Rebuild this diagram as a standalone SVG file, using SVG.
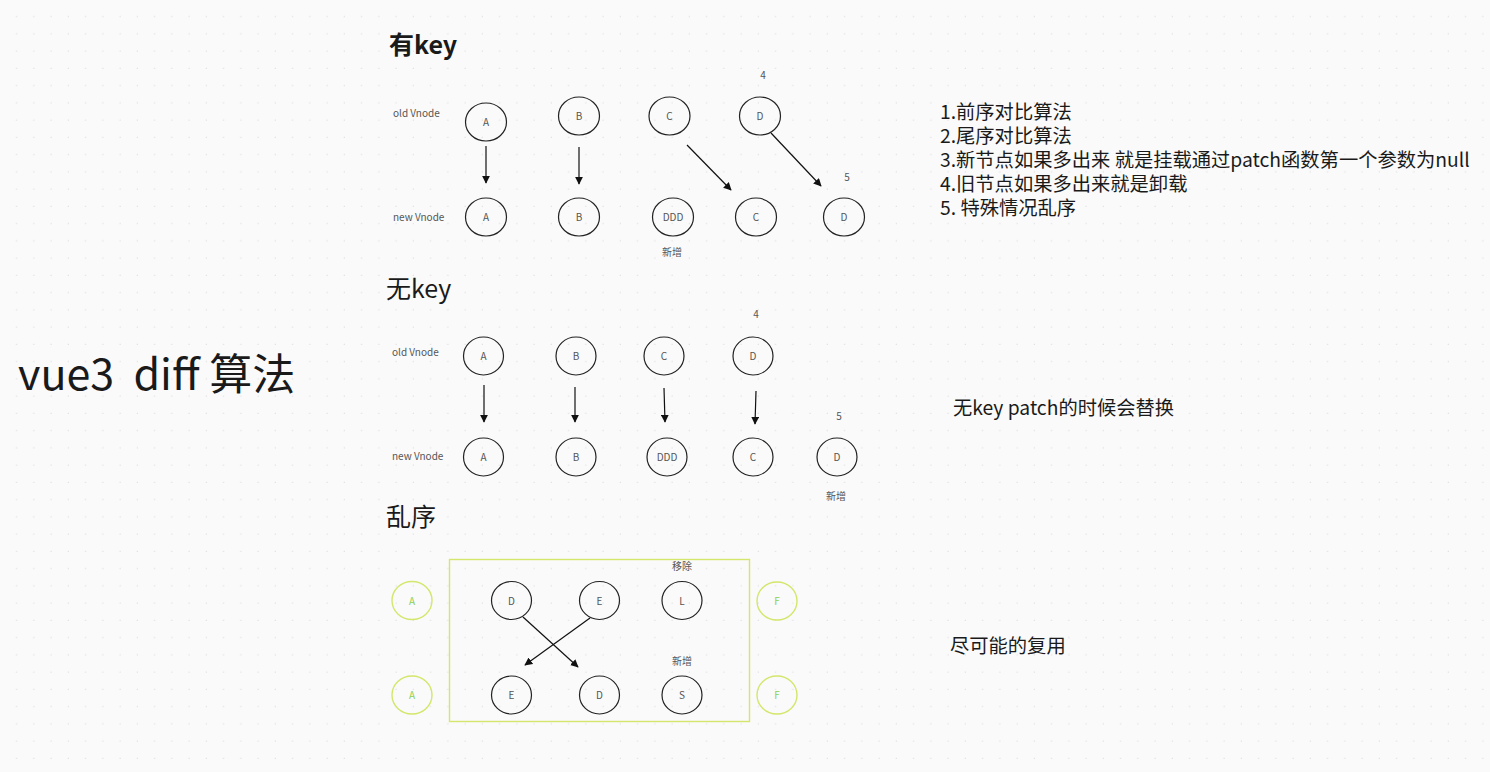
<svg xmlns="http://www.w3.org/2000/svg" width="1490" height="772" viewBox="0 0 1490 772">
<defs>
<pattern id="dots" x="0" y="0" width="17.25" height="17.25" patternUnits="userSpaceOnUse">
<rect x="16" y="16" width="2" height="2" fill="#e2e2e2"/>
</pattern>
<marker id="arr" viewBox="0 0 10 10" refX="9" refY="5" markerWidth="8" markerHeight="8" markerUnits="userSpaceOnUse" orient="auto">
<path d="M0,0 L10,5 L0,10 z" fill="#111"/>
</marker>
<style>
text{font-family:"Noto Sans CJK SC","Noto Sans",sans-serif;}
.n ellipse{fill:none;stroke:#222;stroke-width:1.2;}
.n text{font-size:10px;fill:#555;text-anchor:middle;}
.g ellipse{fill:none;stroke:#d4e66b;stroke-width:1.4;}
.g text{font-size:10px;fill:#8fd14f;text-anchor:middle;}
.lbl{font-size:10px;fill:#555;}
.sm{font-size:10px;fill:#555;text-anchor:middle;}
.h{font-size:25px;fill:#1a1a1a;}
.body{font-size:19.3px;fill:#1a1a1a;}
.conn line{stroke:#111;stroke-width:1.2;marker-end:url(#arr);}
</style>
</defs>
<rect width="1490" height="772" fill="#fafafa"/>
<rect width="1490" height="772" fill="url(#dots)"/>

<text x="18" y="390" font-size="43" fill="#1a1a1a" xml:space="preserve">vue3  diff 算法</text>

<g id="section-haskey">
<text class="h" x="389" y="54" font-weight="bold">有key</text>
<text class="lbl" x="393" y="117">old Vnode</text>
<text class="lbl" x="393" y="221">new Vnode</text>
<text class="sm" x="763" y="79">4</text>
<text class="sm" x="847" y="181">5</text>
<text class="sm" x="672" y="256">新增</text>
<g id="k-old-A" class="n"><ellipse cx="486" cy="122" rx="20.5" ry="19"/><text x="486" y="126">A</text></g>
<g id="k-old-B" class="n"><ellipse cx="579" cy="116" rx="20.5" ry="19"/><text x="579" y="120">B</text></g>
<g id="k-old-C" class="n"><ellipse cx="669.5" cy="116" rx="20.5" ry="19"/><text x="669.5" y="120">C</text></g>
<g id="k-old-D" class="n"><ellipse cx="760" cy="116" rx="20.5" ry="19"/><text x="760" y="120">D</text></g>
<g id="k-new-A" class="n"><ellipse cx="486" cy="217" rx="20.5" ry="19"/><text x="486" y="221">A</text></g>
<g id="k-new-B" class="n"><ellipse cx="579" cy="217" rx="20.5" ry="19"/><text x="579" y="221">B</text></g>
<g id="k-new-DDD" class="n"><ellipse cx="673" cy="217" rx="20.5" ry="19"/><text x="673" y="221">DDD</text></g>
<g id="k-new-C" class="n"><ellipse cx="756" cy="217" rx="20.5" ry="19"/><text x="756" y="221">C</text></g>
<g id="k-new-D" class="n"><ellipse cx="844" cy="217" rx="20.5" ry="19"/><text x="844" y="221">D</text></g>
</g>

<g id="section-nokey">
<text class="h" x="386" y="298">无key</text>
<text class="lbl" x="392" y="356">old Vnode</text>
<text class="lbl" x="392" y="460">new Vnode</text>
<text class="sm" x="756" y="318">4</text>
<text class="sm" x="839" y="420">5</text>
<text class="sm" x="836" y="500">新增</text>
<g id="n-old-A" class="n"><ellipse cx="483.5" cy="356" rx="20" ry="19"/><text x="483.5" y="360">A</text></g>
<g id="n-old-B" class="n"><ellipse cx="576" cy="356" rx="20" ry="19"/><text x="576" y="360">B</text></g>
<g id="n-old-C" class="n"><ellipse cx="664" cy="356" rx="20" ry="19"/><text x="664" y="360">C</text></g>
<g id="n-old-D" class="n"><ellipse cx="753" cy="356" rx="20" ry="19"/><text x="753" y="360">D</text></g>
<g id="n-new-A" class="n"><ellipse cx="483.5" cy="457" rx="20" ry="19"/><text x="483.5" y="461">A</text></g>
<g id="n-new-B" class="n"><ellipse cx="576" cy="457" rx="20" ry="19"/><text x="576" y="461">B</text></g>
<g id="n-new-DDD" class="n"><ellipse cx="667" cy="457" rx="20" ry="19"/><text x="667" y="461">DDD</text></g>
<g id="n-new-C" class="n"><ellipse cx="753" cy="457" rx="20" ry="19"/><text x="753" y="461">C</text></g>
<g id="n-new-D" class="n"><ellipse cx="837" cy="457" rx="20" ry="19"/><text x="837" y="461">D</text></g>
</g>

<g id="section-unordered">
<text class="h" x="386" y="526">乱序</text>
<rect id="box" x="449.5" y="559.5" width="300" height="162" fill="none" stroke="#d4e66b" stroke-width="1.4"/>
<text class="sm" x="682" y="570">移除</text>
<text class="sm" x="682" y="665">新增</text>
<g id="u-old-A" class="g"><ellipse cx="412" cy="600.5" rx="20" ry="19"/><text x="412" y="604.5">A</text></g>
<g id="u-old-D" class="n"><ellipse cx="511.5" cy="600.5" rx="20" ry="19"/><text x="511.5" y="604.5">D</text></g>
<g id="u-old-E" class="n"><ellipse cx="599.5" cy="600.5" rx="20" ry="19"/><text x="599.5" y="604.5">E</text></g>
<g id="u-old-L" class="n"><ellipse cx="682" cy="600.5" rx="20" ry="19"/><text x="682" y="604.5">L</text></g>
<g id="u-old-F" class="g"><ellipse cx="777" cy="601" rx="20" ry="19"/><text x="777" y="605">F</text></g>
<g id="u-new-A" class="g"><ellipse cx="412" cy="695" rx="20" ry="19"/><text x="412" y="699">A</text></g>
<g id="u-new-E" class="n"><ellipse cx="511.5" cy="695" rx="20" ry="19"/><text x="511.5" y="699">E</text></g>
<g id="u-new-D" class="n"><ellipse cx="599.5" cy="695" rx="20" ry="19"/><text x="599.5" y="699">D</text></g>
<g id="u-new-S" class="n"><ellipse cx="682" cy="695" rx="20" ry="19"/><text x="682" y="699">S</text></g>
<g id="u-new-F" class="g"><ellipse cx="777" cy="695" rx="20" ry="19"/><text x="777" y="699">F</text></g>
</g>

<g id="connectors" class="conn">
<line x1="486" y1="146" x2="486" y2="183"/>
<line x1="579" y1="147" x2="579" y2="184"/>
<line x1="687" y1="145" x2="731" y2="190"/>
<line x1="771" y1="133" x2="821" y2="186"/>
<line x1="484" y1="385" x2="484" y2="422"/>
<line x1="575" y1="387" x2="575" y2="422"/>
<line x1="664" y1="388" x2="665" y2="422"/>
<line x1="756" y1="391" x2="755" y2="424"/>
<line x1="523" y1="617" x2="578" y2="667"/>
<line x1="590" y1="618" x2="525" y2="665"/>
</g>

<g id="notes">
<text class="body" x="940" y="119"><tspan x="940" y="119">1.前序对比算法</tspan><tspan x="940" y="143">2.尾序对比算法</tspan><tspan x="940" y="167">3.新节点如果多出来 就是挂载通过patch函数第一个参数为null</tspan><tspan x="940" y="191">4.旧节点如果多出来就是卸载</tspan><tspan x="940" y="215">5. 特殊情况乱序</tspan></text>
<text class="body" x="953" y="415">无key patch的时候会替换</text>
<text class="body" x="950" y="653">尽可能的复用</text>
</g>
</svg>
